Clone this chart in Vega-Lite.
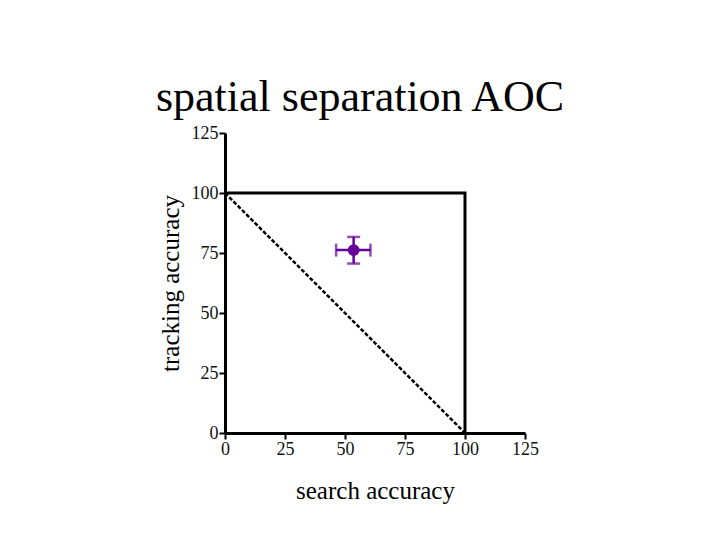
{
  "$schema": "https://vega.github.io/schema/vega-lite/v6.json",
  "width": 300,
  "height": 300,
  "autosize": "none",
  "padding": {"left": 225, "top": 133, "right": 195, "bottom": 107},
  "background": "white",
  "title": {"text": "spatial separation AOC", "font": "Liberation Serif", "fontSize": 44, "fontWeight": "normal", "color": "black", "anchor": "middle", "dx": -15, "offset": 4},
  "config": {
    "view": {"stroke": null},
    "axis": {
      "grid": false,
      "domainColor": "black", "domainWidth": 3,
      "tickColor": "black", "tickWidth": 2, "tickSize": 6,
      "labelFont": "Liberation Serif", "labelFontSize": 18, "labelColor": "#111", "labelPadding": 1,
      "labelFlush": false, "labelOverlap": false,
      "titleFont": "Liberation Serif", "titleFontSize": 25, "titleFontWeight": "normal", "titleColor": "black"
    }
  },
  "datasets": {
    "box": [{"x": 0, "y": 100, "o": 1}, {"x": 100, "y": 100, "o": 2}, {"x": 100, "y": 0, "o": 3}],
    "diag": [{"x": 0, "y": 100, "o": 1}, {"x": 100, "y": 0, "o": 2}],
    "pt": [{"x": 53.6, "xlo": 46.3, "xhi": 60.6, "y": 76.2, "ylo": 70.6, "yhi": 81.7}]
  },
  "layer": [
    {
      "data": {"name": "box"},
      "mark": {"type": "line", "color": "black", "strokeWidth": 3},
      "encoding": {
        "x": {"field": "x", "type": "quantitative", "scale": {"domain": [0, 125], "nice": false, "zero": false},
              "axis": {"values": [0, 25, 50, 75, 100, 125], "title": "search accuracy", "titlePadding": 20}, "title": "search accuracy"},
        "y": {"field": "y", "type": "quantitative", "scale": {"domain": [0, 125], "nice": false, "zero": false},
              "axis": {"values": [0, 25, 50, 75, 100, 125], "title": "tracking accuracy", "titlePadding": 8}, "title": "tracking accuracy"},
        "order": {"field": "o"}
      }
    },
    {
      "data": {"name": "diag"},
      "mark": {"type": "line", "color": "black", "strokeWidth": 2.5, "strokeDash": [4, 2]},
      "encoding": {
        "x": {"field": "x", "type": "quantitative", "title": "search accuracy"},
        "y": {"field": "y", "type": "quantitative", "title": "tracking accuracy"},
        "order": {"field": "o"}
      }
    },
    {
      "data": {"name": "pt"},
      "mark": {"type": "errorbar", "color": "#660099", "thickness": 2.5, "ticks": {"size": 13, "thickness": 2.5, "color": "#660099"}},
      "encoding": {
        "x": {"field": "xlo", "type": "quantitative", "title": "search accuracy"},
        "x2": {"field": "xhi", "title": "search accuracy"},
        "y": {"field": "y", "type": "quantitative", "title": "tracking accuracy"}
      }
    },
    {
      "data": {"name": "pt"},
      "mark": {"type": "errorbar", "color": "#660099", "thickness": 2.5, "ticks": {"size": 13, "thickness": 2.5, "color": "#660099"}},
      "encoding": {
        "y": {"field": "ylo", "type": "quantitative", "title": "tracking accuracy"},
        "y2": {"field": "yhi", "title": "tracking accuracy"},
        "x": {"field": "x", "type": "quantitative", "title": "search accuracy"}
      }
    },
    {
      "data": {"name": "pt"},
      "mark": {"type": "point", "filled": true, "color": "#660099", "size": 140, "opacity": 1},
      "encoding": {
        "x": {"field": "x", "type": "quantitative", "title": "search accuracy"},
        "y": {"field": "y", "type": "quantitative", "title": "tracking accuracy"}
      }
    }
  ]
}
